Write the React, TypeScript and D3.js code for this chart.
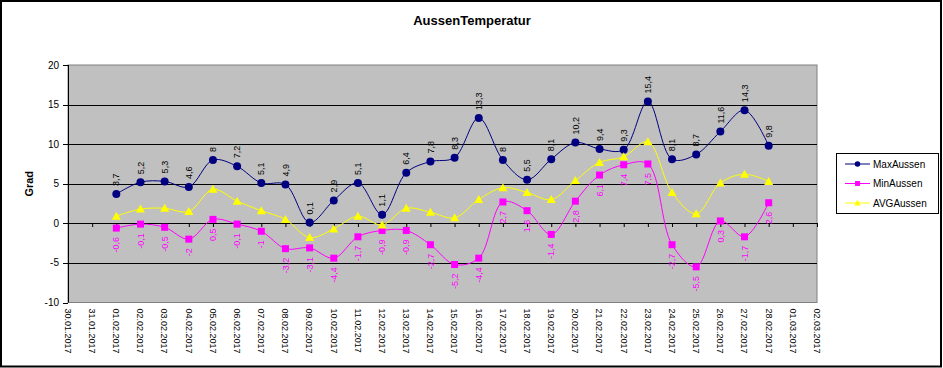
import React from 'react';
import * as d3 from 'd3';

// categories (x axis)
const dates = [
  '30.01.2017', '31.01.2017',
  '01.02.2017', '02.02.2017', '03.02.2017', '04.02.2017', '05.02.2017', '06.02.2017', '07.02.2017',
  '08.02.2017', '09.02.2017', '10.02.2017', '11.02.2017', '12.02.2017', '13.02.2017', '14.02.2017',
  '15.02.2017', '16.02.2017', '17.02.2017', '18.02.2017', '19.02.2017', '20.02.2017', '21.02.2017',
  '22.02.2017', '23.02.2017', '24.02.2017', '25.02.2017', '26.02.2017', '27.02.2017', '28.02.2017',
  '01.03.2017', '02.03.2017'
];

// values exist for 01.02 – 28.02
const maxAussen = [3.7, 5.2, 5.3, 4.6, 8, 7.2, 5.1, 4.9, 0.1, 2.9, 5.1, 1.1, 6.4, 7.8, 8.3, 13.3, 8, 5.5, 8.1, 10.2, 9.4, 9.3, 15.4, 8.1, 8.7, 11.6, 14.3, 9.8];
const minAussen = [-0.6, -0.1, -0.5, -2, 0.5, -0.1, -1, -3.2, -3.1, -4.4, -1.7, -0.9, -0.9, -2.7, -5.2, -4.4, 2.7, 1.6, -1.4, 2.8, 6.1, 7.4, 7.5, -2.7, -5.5, 0.3, -1.7, 2.6];
const avgAussen = [0.9, 1.8, 1.9, 1.5, 4.3, 2.8, 1.6, 0.5, -1.8, -0.7, 0.9, -0.2, 1.9, 1.4, 0.7, 3.0, 4.5, 3.9, 3.0, 5.4, 7.7, 8.4, 10.3, 3.9, 1.2, 5.1, 6.2, 5.3];

const yTicks = [20, 15, 10, 5, 0, -5, -10];

const W = 943;
const H = 368;
const left = 68, right = 817, top = 65, bottom = 302.5;
const font = '"Liberation Sans", Arial, sans-serif';

const fmt = (v: number) => String(v).replace('.', ',');

const Marker = ({ kind, x, y }: { kind: string; x: number; y: number }) => {
  if (kind === 'circle') return <circle cx={x} cy={y} r={4} fill="#000080" />;
  if (kind === 'square') return <rect x={x - 3.5} y={y - 3.5} width={7} height={7} fill="#FF00FF" />;
  return <path d={`M${x},${y - 4.5}L${x + 4.5},${y + 3.5}L${x - 4.5},${y + 3.5}Z`} fill="#FFFF00" />;
};

const App = () => {
  const x = d3.scalePoint<string>().domain(dates).range([left, right]).padding(0);
  const y = d3.scaleLinear().domain([-10, 20]).range([bottom, top]);

  const series = [
    { name: 'MaxAussen', values: maxAussen, color: '#000080', marker: 'circle', label: 'above' },
    { name: 'MinAussen', values: minAussen, color: '#FF00FF', marker: 'square', label: 'below' },
    { name: 'AVGAussen', values: avgAussen, color: '#FFFF00', marker: 'triangle', label: 'none' }
  ];

  const dataDates = dates.slice(2, 30);
  const line = d3.line<[string, number]>()
    .x(d => x(d[0]) as number)
    .y(d => y(d[1]))
    .curve(d3.curveCatmullRom.alpha(0.5));

  return (
    <div style={{ position: 'absolute', left: 0, top: 0 }}>
      <svg width={W} height={H} style={{ display: 'block', fontFamily: font }}>
        <rect x={0} y={0} width={W} height={H} fill="#fff" />
        <rect x={1} y={1} width={940} height={365.5} fill="none" stroke="#000" strokeWidth={2} />

        <text x={472} y={25} textAnchor="middle" fontSize={13} fontWeight="bold">AussenTemperatur</text>

        {/* plot area */}
        <rect x={left} y={top} width={right - left} height={bottom - top} fill="#C0C0C0" stroke="#808080" strokeWidth={1} />
        {yTicks.filter(t => t !== 20 && t !== -10).map(t => (
          <line key={t} x1={left} x2={right} y1={Math.round(y(t)) + 0.5} y2={Math.round(y(t)) + 0.5} stroke="#000" />
        ))}

        {/* y axis */}
        <line x1={left + 0.5} x2={left + 0.5} y1={top} y2={bottom} stroke="#000" />
        {yTicks.map(t => (
          <g key={t}>
            <line x1={left - 5} x2={left} y1={Math.round(y(t)) + 0.5} y2={Math.round(y(t)) + 0.5} stroke="#000" />
            <text x={left - 9} y={y(t)} dy="0.35em" textAnchor="end" fontSize={10}>{t}</text>
          </g>
        ))}
        <text transform={`translate(33,${(top + bottom) / 2}) rotate(-90)`} textAnchor="middle" fontSize={11} fontWeight="bold">Grad</text>

        {/* category axis crosses at 0 */}
        {dates.map(d => (
          <line key={d} x1={(x(d) as number) + 0.5} x2={(x(d) as number) + 0.5} y1={Math.round(y(0))} y2={Math.round(y(0)) + 4} stroke="#000" />
        ))}
        {dates.map(d => (
          <text key={d} transform={`translate(${x(d)},${bottom + 6}) rotate(90)`} dy="0.35em" fontSize={9}>{d}</text>
        ))}

        {/* series */}
        {series.map(s => {
          const pts = dataDates.map((d, i) => [d, s.values[i]] as [string, number]);
          return (
            <g key={s.name}>
              <path d={line(pts) || ''} fill="none" stroke={s.color} strokeWidth={1} />
              {pts.map(p => (
                <Marker key={p[0]} kind={s.marker} x={x(p[0]) as number} y={y(p[1])} />
              ))}
            </g>
          );
        })}

        {/* data labels */}
        {series.filter(s => s.label !== 'none').map(s => (
          <g key={s.name}>
            {dataDates.map((d, i) => {
              const px = x(d) as number;
              const py = y(s.values[i]);
              const above = s.label === 'above';
              return (
                <text key={d}
                  transform={`translate(${px},${above ? py - 8 : py + 9}) rotate(-90)`}
                  textAnchor={above ? 'start' : 'end'} dy="0.35em" fontSize={9}
                  fill={above ? '#000' : '#FF00FF'}>{fmt(s.values[i])}</text>
              );
            })}
          </g>
        ))}

        {/* legend */}
        <rect x={836.5} y={153.5} width={102} height={60} fill="#fff" stroke="#000" />
        {series.map((s, i) => {
          const ly = 164 + i * 19.5;
          return (
            <g key={s.name}>
              <line x1={845} x2={870} y1={ly} y2={ly} stroke={s.color} />
              <g transform={`translate(857.5,${ly}) scale(0.7) translate(-857.5,${-ly})`}>
                <Marker kind={s.marker} x={857.5} y={ly} />
              </g>
              <text x={873} y={ly} dy="0.35em" fontSize={10}>{s.name}</text>
            </g>
          );
        })}
      </svg>
    </div>
  );
};

export default App;
